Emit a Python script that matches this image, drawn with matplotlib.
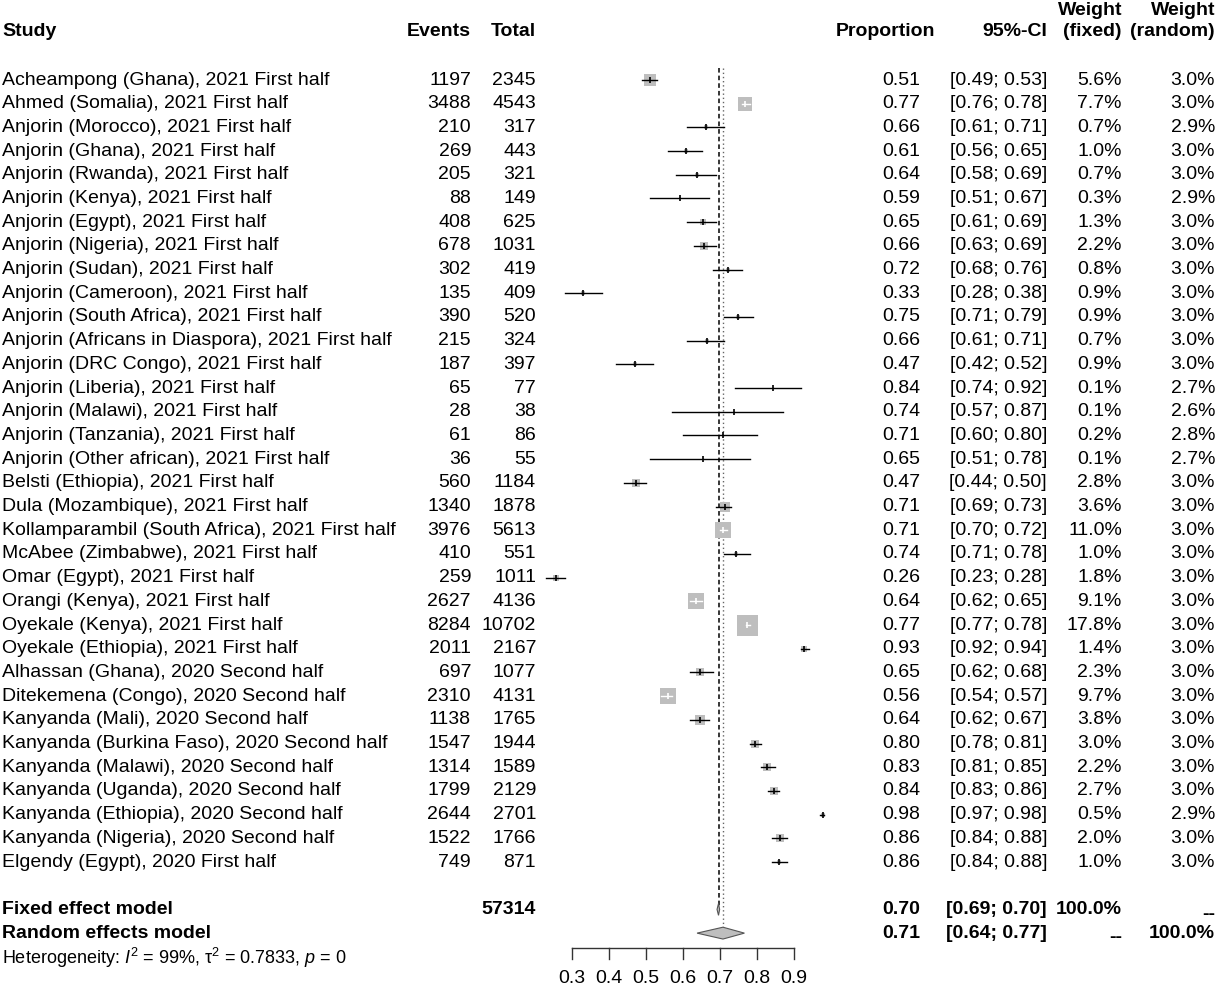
import matplotlib
matplotlib.use("Agg")
import matplotlib.pyplot as plt
from matplotlib.patches import Polygon

plt.rcParams["font.family"] = ["Liberation Sans", "DejaVu Sans"]
plt.rcParams["mathtext.fontset"] = "custom"
plt.rcParams["mathtext.rm"] = "Liberation Sans"
plt.rcParams["mathtext.it"] = "Liberation Sans:italic"

# ---- data ----
studies = [
    "Acheampong (Ghana), 2021 First half",
    "Ahmed (Somalia), 2021 First half",
    "Anjorin (Morocco), 2021 First half",
    "Anjorin (Ghana), 2021 First half",
    "Anjorin (Rwanda), 2021 First half",
    "Anjorin (Kenya), 2021 First half",
    "Anjorin (Egypt), 2021 First half",
    "Anjorin (Nigeria), 2021 First half",
    "Anjorin (Sudan), 2021 First half",
    "Anjorin (Cameroon), 2021 First half",
    "Anjorin (South Africa), 2021 First half",
    "Anjorin (Africans in Diaspora), 2021 First half",
    "Anjorin (DRC Congo), 2021 First half",
    "Anjorin (Liberia), 2021 First half",
    "Anjorin (Malawi), 2021 First half",
    "Anjorin (Tanzania), 2021 First half",
    "Anjorin (Other african), 2021 First half",
    "Belsti (Ethiopia), 2021 First half",
    "Dula (Mozambique), 2021 First half",
    "Kollamparambil (South Africa), 2021 First half",
    "McAbee (Zimbabwe), 2021 First half",
    "Omar (Egypt), 2021 First half",
    "Orangi (Kenya), 2021 First half",
    "Oyekale (Kenya), 2021 First half",
    "Oyekale (Ethiopia), 2021 First half",
    "Alhassan (Ghana), 2020 Second half",
    "Ditekemena (Congo), 2020 Second half",
    "Kanyanda (Mali), 2020 Second half",
    "Kanyanda (Burkina Faso), 2020 Second half",
    "Kanyanda (Malawi), 2020 Second half",
    "Kanyanda (Uganda), 2020 Second half",
    "Kanyanda (Ethiopia), 2020 Second half",
    "Kanyanda (Nigeria), 2020 Second half",
    "Elgendy (Egypt), 2020 First half",
]
events = [1197, 3488, 210, 269, 205, 88, 408, 678, 302, 135, 390, 215, 187, 65, 28, 61, 36,
          560, 1340, 3976, 410, 259, 2627, 8284, 2011, 697, 2310, 1138, 1547, 1314, 1799,
          2644, 1522, 749]
totals = [2345, 4543, 317, 443, 321, 149, 625, 1031, 419, 409, 520, 324, 397, 77, 38, 86, 55,
          1184, 1878, 5613, 551, 1011, 4136, 10702, 2167, 1077, 4131, 1765, 1944, 1589, 2129,
          2701, 1766, 871]
proportions = [0.51, 0.77, 0.66, 0.61, 0.64, 0.59, 0.65, 0.66, 0.72, 0.33, 0.75, 0.66, 0.47,
               0.84, 0.74, 0.71, 0.65, 0.47, 0.71, 0.71, 0.74, 0.26, 0.64, 0.77, 0.93, 0.65,
               0.56, 0.64, 0.80, 0.83, 0.84, 0.98, 0.86, 0.86]
ci_low = [0.49, 0.76, 0.61, 0.56, 0.58, 0.51, 0.61, 0.63, 0.68, 0.28, 0.71, 0.61, 0.42, 0.74,
          0.57, 0.60, 0.51, 0.44, 0.69, 0.70, 0.71, 0.23, 0.62, 0.77, 0.92, 0.62, 0.54, 0.62,
          0.78, 0.81, 0.83, 0.97, 0.84, 0.84]
ci_high = [0.53, 0.78, 0.71, 0.65, 0.69, 0.67, 0.69, 0.69, 0.76, 0.38, 0.79, 0.71, 0.52, 0.92,
           0.87, 0.80, 0.78, 0.50, 0.73, 0.72, 0.78, 0.28, 0.65, 0.78, 0.94, 0.68, 0.57, 0.67,
           0.81, 0.85, 0.86, 0.98, 0.88, 0.88]
weight_fixed = [5.6, 7.7, 0.7, 1.0, 0.7, 0.3, 1.3, 2.2, 0.8, 0.9, 0.9, 0.7, 0.9, 0.1, 0.1, 0.2,
                0.1, 2.8, 3.6, 11.0, 1.0, 1.8, 9.1, 17.8, 1.4, 2.3, 9.7, 3.8, 3.0, 2.2, 2.7,
                0.5, 2.0, 1.0]
weight_random = [3.0, 3.0, 2.9, 3.0, 3.0, 2.9, 3.0, 3.0, 3.0, 3.0, 3.0, 3.0, 3.0, 2.7, 2.6, 2.8,
                 2.7, 3.0, 3.0, 3.0, 3.0, 3.0, 3.0, 3.0, 3.0, 3.0, 3.0, 3.0, 3.0, 3.0, 3.0,
                 2.9, 3.0, 3.0]

fixed_est, fixed_lo, fixed_hi = 0.696, 0.692, 0.699
random_est, random_lo, random_hi = 0.708, 0.638, 0.766
total_n = 57314
heterogeneity = r"Heterogeneity: $I^2$ = 99%, $\mathrm{\tau}^2$ = 0.7833, $p$ = 0"
tick_values = [0.3, 0.4, 0.5, 0.6, 0.7, 0.8, 0.9]

# ---- layout ----
W, H = 1218, 990
FS = 14
GREY = "#bebebe"
ROW_TOP, ROW_BOTTOM = -3.376, 38.4
PX_PER_UNIT = 370.0
X_LO = 0.3 - 32 / PX_PER_UNIT
X_HI = 0.3 + 258 / PX_PER_UNIT
MAX_SIDE = 21.0  # px side of the biggest square

fig = plt.figure(figsize=(W / 100, H / 100), dpi=100)

tx = fig.add_axes([0, 0, 1, 1])
tx.set_xlim(0, W)
tx.set_ylim(ROW_BOTTOM, ROW_TOP)
tx.axis("off")

ax = fig.add_axes([540 / W, 0, 290 / W, 1])
ax.set_xlim(X_LO, X_HI)
ax.set_ylim(ROW_BOTTOM, ROW_TOP)
ax.axis("off")

# columns (right edges in px)
C_STUDY, C_EV, C_TOT, C_PROP, C_CI, C_WF, C_WR = 2, 471, 536, 920, 1047, 1122, 1215

# header
bold = dict(fontsize=FS, fontweight="bold", va="center")
tx.text(C_STUDY, -2.03, "Study", ha="left", **bold)
tx.text(C_EV, -2.03, "Events", ha="right", **bold)
tx.text(C_TOT, -2.03, "Total", ha="right", **bold)
tx.text(935, -2.03, "Proportion", ha="right", **bold)
tx.text(C_CI, -2.03, "95%-CI", ha="right", **bold)
tx.text(C_WF, -2.92, "Weight", ha="right", **bold)
tx.text(C_WF, -2.03, "(fixed)", ha="right", **bold)
tx.text(C_WR, -2.92, "Weight", ha="right", **bold)
tx.text(C_WR, -2.03, "(random)", ha="right", **bold)

# study rows
for i, name in enumerate(studies):
    tx.text(C_STUDY, i, name, ha="left", va="center", fontsize=FS)
    tx.text(C_EV, i, str(events[i]), ha="right", va="center", fontsize=FS)
    tx.text(C_TOT, i, str(totals[i]), ha="right", va="center", fontsize=FS)
    tx.text(C_PROP, i, f"{proportions[i]:.2f}", ha="right", va="center", fontsize=FS)
    tx.text(C_CI, i, f"[{ci_low[i]:.2f}; {ci_high[i]:.2f}]", ha="right", va="center", fontsize=FS)
    tx.text(C_WF, i, f"{weight_fixed[i]:.1f}%", ha="right", va="center", fontsize=FS)
    tx.text(C_WR, i, f"{weight_random[i]:.1f}%", ha="right", va="center", fontsize=FS)

    est = events[i] / totals[i]
    side = MAX_SIDE * (weight_fixed[i] / max(weight_fixed)) ** 0.5
    inside = (ci_high[i] - ci_low[i]) * PX_PER_UNIT < side
    col = "white" if inside else "black"
    ax.plot(est, i, marker="s", ms=side * 0.72, color=GREY, mew=0, zorder=2)
    ax.plot([ci_low[i], ci_high[i]], [i, i], color=col, lw=1.0, zorder=3)
    ax.plot(est, i, marker="|", ms=4.5, mew=1.2, color=col, zorder=3)

# pooled rows
r_fix, r_ran = len(studies) + 1, len(studies) + 2
tx.text(C_STUDY, r_fix, "Fixed effect model", ha="left", **bold)
tx.text(C_TOT, r_fix, str(total_n), ha="right", **bold)
tx.text(C_PROP, r_fix, f"{fixed_est:.2f}", ha="right", **bold)
tx.text(C_CI, r_fix, f"[{fixed_lo:.2f}; {fixed_hi:.2f}]", ha="right", **bold)
tx.text(C_WF, r_fix, "100.0%", ha="right", **bold)
tx.text(C_WR, r_fix + 0.2, "--", ha="right", **bold)

tx.text(C_STUDY, r_ran, "Random effects model", ha="left", **bold)
tx.text(C_PROP, r_ran, f"{random_est:.2f}", ha="right", **bold)
tx.text(C_CI, r_ran, f"[{random_lo:.2f}; {random_hi:.2f}]", ha="right", **bold)
tx.text(C_WF, r_ran + 0.2, "--", ha="right", **bold)
tx.text(C_WR, r_ran, "100.0%", ha="right", **bold)

tx.text(C_STUDY, r_ran + 1.05, heterogeneity, ha="left", va="center", fontsize=13)

# diamonds
dh = 0.25
for est, lo, hi, r in [(fixed_est, fixed_lo, fixed_hi, r_fix), (random_est, random_lo, random_hi, r_ran)]:
    ax.add_patch(Polygon([(lo, r), (est, r - dh), (hi, r), (est, r + dh)], closed=True,
                         facecolor=GREY, edgecolor="#555555", lw=0.8, zorder=4))

# reference lines
ax.plot([fixed_est, fixed_est], [-0.5, r_fix], color="black", lw=1.1, ls=(0, (3, 2)), zorder=1)
ax.plot([random_est, random_est], [-0.5, r_ran], color="#666666", lw=1.0, ls=(0, (1, 2)), zorder=1)

# x axis
axis_row = 36.62
ax.plot([tick_values[0], tick_values[-1]], [axis_row, axis_row], color="#333333", lw=1.0)
for t in tick_values:
    ax.plot([t, t], [axis_row, axis_row + 0.46], color="#333333", lw=1.0)
    ax.text(t, 37.9, f"{t:.1f}", ha="center", va="center", fontsize=FS)

fig.savefig("out.png", dpi=100)
